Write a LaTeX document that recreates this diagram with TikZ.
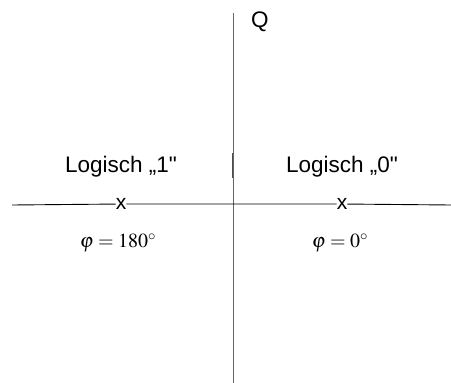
\documentclass[tikz,border=0pt]{standalone}
\usepackage{mathptmx}
\usepackage{fontspec}
\newfontfamily\arial{Liberation Sans}
\usepackage{tikz}
\usetikzlibrary{positioning}

\begin{document}
\begin{tikzpicture}[x=1pt, y=-1pt,
    axis/.style={line width=1pt},
    label/.style={font=\arial\fontsize{22.5}{26}\selectfont, inner sep=0pt},
    phase/.style={font=\fontsize{20}{24}\selectfont, inner sep=0pt},
    point/.style={font=\arial\fontsize{21}{24}\selectfont, fill=white, inner sep=0pt}]
  \useasboundingbox (0,0) rectangle (451,383);
  % axes
  \coordinate (qtop) at (233,13);
  \coordinate (qbot) at (233,383);
  \coordinate (ileft) at (12,205);
  \coordinate (iright) at (451,205);
  \draw[axis, gray!80!black] (qtop) -- (qbot);
  \coordinate (mtop) at (232.3,153);
  \coordinate (mbot) at (232.3,178);
  \draw[gray!60!black, line width=1.6pt] (mtop) -- (mbot);
  \node[point] (one) at (121,204) {x};
  \node[point] (zero) at (342,204) {x};
  \draw[line width=0.9pt] (ileft) -- (one) -- (zero) -- (iright);
  % labels
  \node[label] (q) at (260,22) {Q};
  \node[label] (l1) at (121,167) {Logisch „1"};
  \node[label] (l0) at (342,167) {Logisch „0"};
  \node[phase] (p1) at (118,243) {$\varphi=180^\circ$};
  \node[phase] (p0) at (340,243) {$\varphi=0^\circ$};
\end{tikzpicture}
\end{document}
